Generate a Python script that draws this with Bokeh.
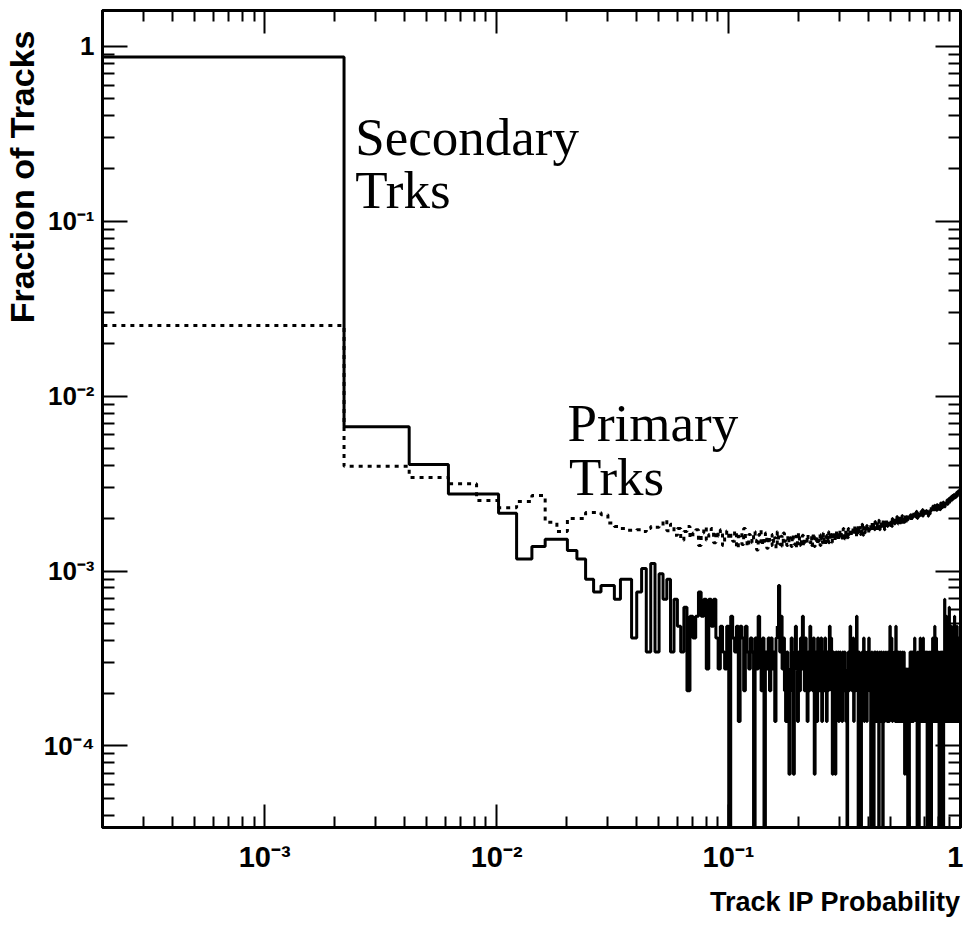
import numpy as np
from bokeh.plotting import figure
from bokeh.models import FixedTicker, LogAxis, Label, Title, Range1d, CustomJSTickFormatter
from bokeh.embed import file_html
from bokeh.resources import INLINE

# ---------------- data ----------------
N_BINS = 500            # uniform bins from X_MIN to 1
X_MIN, X_MAX = 2e-4, 1.0
SEC_TOTAL = 14500.0     # normalisation of secondary-track counts

# Secondary tracks: counts per bin, bins 0-49
sec_counts_head = [12600, 97, 59, 40, 40, 31, 17, 20, 22, 22,
                   19, 17, 13, 11, 12, 12, 10, 13, 13, 6,
                   11, 15, 5, 16, 5, 14, 10, 13, 5, 10,
                   7, 5, 9, 3, 8, 6, 8, 11, 8, 10,
                   4, 10, 7, 10, 6, 4, 7, 5, 4, 7]
# Secondary tracks: counts per bin, bins 50-499
sec_counts_tail = [
    0,
    8, 6, 5, 7, 2, 7, 6, 3, 7, 5, 4, 6,
    5, 0, 6, 4, 8, 5, 3, 6, 0, 5, 4, 6,
    3, 6, 4, 5, 2, 6, 7, 12, 5, 8, 4, 6, 3, 2, 5, 4,
    1, 4, 6, 3, 1, 5, 7, 4, 2, 5, 3, 6, 4, 8, 5, 3, 6, 4, 2, 5, 3,
    7, 4, 5, 3, 6, 1, 4, 5, 2, 6, 4, 3, 5, 6, 2, 4, 5, 3, 6, 4, 2, 5, 3, 4, 7,
    4, 6, 3, 1, 5, 3, 4, 1, 5, 4, 3, 5, 2, 4, 5, 3, 4, 2, 5, 4, 3, 5, 4, 2, 3, 0, 4, 5, 3, 4,
    7, 4, 5, 3, 4, 6, 2, 5, 4, 3, 5, 8, 4, 3, 0, 5, 4, 2, 4, 0, 3, 5, 4, 3, 6, 2, 4, 5, 3, 4,
    2, 5, 3, 4, 6, 3,
    4, 3, 0, 4, 5, 2, 4, 3, 0, 5, 4, 3, 5, 2, 4, 3, 5, 4, 2, 0, 4, 5, 3, 4, 2, 5, 3, 4, 0, 3,
    5, 4, 2, 4, 3, 5, 4, 3, 2, 4, 5, 3, 4, 2, 5,
    7, 4, 5, 3, 6, 4, 2, 5, 4, 3, 4, 5, 3, 2, 4, 7, 5, 3, 4, 2, 5, 4, 3, 5, 2, 4, 3, 5, 4, 2,
    3, 4, 5, 3, 4, 2, 4, 5, 3, 1, 4, 3, 2, 4, 1, 3, 4, 2, 0, 3, 4, 2, 0, 3, 4,
    5, 4, 3, 5, 4, 2, 5, 3, 4, 5, 2, 4, 3, 5, 6, 4, 3, 5, 4, 2, 4, 3, 0, 4, 5, 3, 4, 2, 0, 5,
    3, 4, 6, 3, 4, 2, 5, 4, 3, 5, 2, 4, 6, 3, 4, 5, 3, 2, 4, 5, 3, 4, 2, 5, 3, 4, 0, 3, 5, 4,
    2, 4, 3, 5, 3,
    2, 0, 4, 3, 5, 2, 0, 4, 5, 3, 4, 6, 3, 5, 4, 2, 5, 3, 4, 7, 3, 5, 4, 2, 4, 6, 3, 5, 4, 3,
    5, 2, 4, 3, 5, 4, 0, 3, 4, 2, 5, 3, 0, 4, 3, 5, 2, 4, 0, 3, 5, 4, 2, 3, 0, 4, 3, 5, 4,
    10, 4, 5, 3, 6, 4, 2, 5, 8, 4, 3, 5, 4, 2, 6, 3, 4, 5, 2, 4, 9, 3, 5, 4, 3, 6, 2, 4, 5, 3,
    4, 7, 3, 5, 2, 4, 6, 3, 5, 4, 2, 5, 3, 4, 8, 3, 5, 4, 2, 6, 3, 4, 5, 3, 2, 4, 7, 3, 5, 4,
    2, 5, 4, 3, 6, 4, 2, 5, 3, 4, 5, 6, 4,
]

# Primary tracks: fraction per bin in units of 1e-5, bins 0-49
prim_e5_head = [2530, 397, 343, 315, 253, 230, 250, 270, 190, 168,
                200, 200, 216, 216, 210, 188, 180, 175, 171, 171,
                172, 168, 175, 180, 178, 182, 195, 170, 185, 160,
                175, 150, 168, 180, 155, 165, 172, 140, 165, 178,
                150, 162, 175, 145, 168, 158, 172, 140, 160, 170]
# Primary tracks: fraction per bin in units of 1e-5, bins 50-499
prim_e5_tail = [
    152,
    160, 148, 170, 135, 158, 165, 142, 175, 150, 138, 162, 155,
    145, 168, 150, 132, 160, 172, 140, 155, 148, 165, 135, 158,
    150, 140, 162, 145, 155, 135, 168, 150, 142, 158, 138, 165, 148, 152, 140, 160,
    145, 155, 138, 162, 150, 142, 158, 135, 148, 165, 140, 152, 145, 160, 138, 155, 148, 142, 162, 150,
    150,
    145, 158, 140, 152, 165, 138, 150, 160, 142, 155, 148, 162, 140, 153, 158, 145, 165, 150, 142, 160,
    155, 148, 168, 145, 158,
    150, 162, 158, 145, 168, 155, 160, 148, 170, 152, 165, 158, 150, 172, 160, 155, 168, 148, 162, 175,
    158, 165, 152, 170, 160, 168, 155, 175, 162, 165,
    165, 158, 175, 168, 160, 178, 170, 162, 180, 165, 172, 158, 175, 168, 182, 165, 170, 178, 162, 175,
    168, 185, 170, 160, 178, 172, 165, 180, 175, 168, 182, 170, 176, 165, 180, 172,
    172, 185, 178, 168, 190, 175, 182, 170, 188, 178, 172, 192, 180, 175, 185, 170, 188, 182, 176, 195,
    180, 172, 186, 178, 190, 182, 175, 188, 180, 195, 178, 185, 172, 190, 182, 188, 176, 195, 185, 180,
    192, 178, 188, 184, 186,
    190, 182, 198, 185, 192, 180, 200, 188, 195, 183, 198, 190, 186, 202, 192, 185, 198, 190, 205, 188,
    195, 200, 185, 198, 192, 205, 190, 196, 188, 202, 195, 190, 208, 192, 198, 186, 205, 195, 200, 190,
    210, 196, 188, 202, 198, 205, 192, 200, 196, 210, 198, 192, 205, 200, 198,
    198, 210, 202, 195, 212, 205, 200, 215, 198, 208, 204, 218, 200, 210, 206, 198, 215, 208, 212, 202,
    220, 205, 210, 200, 215, 208, 218, 204, 212, 206, 222, 210, 200, 215, 208, 220, 212, 205, 218, 210,
    225, 206, 214, 210, 220, 204, 216, 212, 225, 208, 218, 214, 205, 222, 215, 210, 228, 212, 218, 215,
    206, 224, 218, 212, 214,
    220, 212, 228, 218, 225, 215, 232, 220, 226, 214, 230, 222, 235, 218, 228, 224, 215, 232, 226, 238,
    220, 230, 225, 218, 236, 228, 232, 222, 240, 226, 234, 228, 220, 238, 230, 235, 225, 242, 232, 228,
    238, 224, 245, 230, 236, 232, 240, 228, 246, 235, 230, 242, 236, 248, 232, 240, 238, 245, 236,
    240, 232, 248, 238, 245, 235, 252, 242, 248, 238, 255, 245, 250, 240, 258, 248, 252, 244, 260, 250,
    256, 246, 262, 252, 258, 248, 265, 255, 260, 250, 268, 258, 262, 252, 270, 260, 266, 255, 272, 262,
    268, 258, 275, 265, 270, 260, 278, 268, 272, 262, 280, 270, 276, 265, 282, 272, 278, 268, 285, 275,
    280, 270, 288, 278, 284, 274, 290, 280, 286, 276, 292, 286, 295,
]

x_major_ticks = [1e-3, 1e-2, 1e-1, 1.0]
y_major_ticks = [1e-4, 1e-3, 1e-2, 1e-1, 1.0]
annotations = [("Secondary", 0.00246, 0.303), ("Trks", 0.00246, 0.150),
               ("Primary", 0.0202, 0.00705), ("Trks", 0.0205, 0.00343)]

# ---------------- derived ----------------
sec = np.array(sec_counts_head + sec_counts_tail, dtype=float) / SEC_TOTAL
prim = np.array(prim_e5_head + prim_e5_tail, dtype=float) * 1e-5
assert len(sec) == N_BINS, len(sec)
assert len(prim) == N_BINS, len(prim)

Y_MIN, Y_MAX = 3.42e-5, 1.6
FLOOR = 1e-9  # empty bins drawn below the frame

edges = np.linspace(X_MIN, X_MAX, N_BINS + 1)


def step_path(vals):
    v = np.where(vals > 0, vals, FLOOR)
    xs = np.repeat(edges, 2)
    ys = np.concatenate([[FLOOR], np.repeat(v, 2), [FLOOR]])
    return xs, ys


def minors(lo, hi, e0, e1):
    return [m * 10.0 ** e for e in range(e0, e1) for m in range(2, 10) if lo <= m * 10.0 ** e <= hi]


x_minor = minors(X_MIN, X_MAX, -4, 0)
y_minor = minors(Y_MIN, Y_MAX, -5, 1)

fmt_code = """
const e = Math.round(Math.log10(tick));
if (e === 0) { return "1"; }
const sup = {"-": "\\u207b", "0": "\\u2070", "1": "\\u00b9", "2": "\\u00b2", "3": "\\u00b3",
             "4": "\\u2074", "5": "\\u2075", "6": "\\u2076", "7": "\\u2077", "8": "\\u2078", "9": "\\u2079"};
return "10" + String(e).split("").map(c => sup[c]).join("");
"""

p = figure(width=963, height=925, x_axis_type="log", y_axis_type="log",
           x_range=Range1d(X_MIN, X_MAX), y_range=Range1d(Y_MIN, Y_MAX),
           output_backend="svg", toolbar_location=None,
           min_border_left=101, min_border_right=3, min_border_top=10, min_border_bottom=98)
p.grid.visible = False
p.outline_line_color = "black"
p.outline_line_width = 3
p.background_fill_color = "white"
p.border_fill_color = "white"


def style_axis(ax, major_len, minor_len, labels):
    ax.axis_line_width = 3
    ax.axis_line_color = "black"
    ax.major_tick_in = major_len
    ax.major_tick_out = 0
    ax.minor_tick_in = minor_len
    ax.minor_tick_out = 0
    ax.major_tick_line_width = 2
    ax.minor_tick_line_width = 2
    ax.major_tick_line_color = "black"
    ax.minor_tick_line_color = "black"
    if labels:
        ax.formatter = CustomJSTickFormatter(code=fmt_code)
        ax.major_label_text_font = "Liberation Sans"
        ax.major_label_text_font_style = "bold"
        ax.major_label_text_font_size = "29px"
        ax.major_label_text_color = "black"
    else:
        ax.major_label_text_font_size = "1px"
        ax.major_label_text_alpha = 0.0
        ax.major_label_standoff = 0


xa = p.xaxis[0]
xa.ticker = FixedTicker(ticks=x_major_ticks, minor_ticks=x_minor)
style_axis(xa, 23, 11, True)
xa.major_label_standoff = 13
ya = p.yaxis[0]
ya.ticker = FixedTicker(ticks=y_major_ticks, minor_ticks=y_minor)
style_axis(ya, 25, 12, True)
ya.major_label_standoff = 8
ya.major_label_text_font_size = "26px"

top_ax = LogAxis(ticker=FixedTicker(ticks=x_major_ticks, minor_ticks=x_minor))
style_axis(top_ax, 23, 11, False)
p.add_layout(top_ax, "above")
right_ax = LogAxis(ticker=FixedTicker(ticks=y_major_ticks, minor_ticks=y_minor))
style_axis(right_ax, 25, 12, False)
p.add_layout(right_ax, "right")

p.add_layout(Title(text="Track IP Probability", align="right", text_font="Liberation Sans",
                   text_font_style="bold", text_font_size="27px", text_color="black",
                   standoff=18), "below")
p.add_layout(Title(text="Fraction of Tracks", align="right", offset=20, text_font="Liberation Sans",
                   text_font_style="bold", text_font_size="34px", text_color="black",
                   standoff=0), "left")

xs, ys_prim = step_path(prim)
_, ys_sec = step_path(sec)
p.line(xs, ys_prim, line_color="black", line_width=3, line_dash="4 5")
p.line(xs, ys_sec, line_color="black", line_width=3)

for txt, ax_, ay_ in annotations:
    p.add_layout(Label(x=ax_, y=ay_, text=txt, text_font="Liberation Serif", text_font_size="53px",
                       text_baseline="alphabetic", text_align="left", text_color="black"))

open("out.html", "w").write(file_html(p, INLINE))
